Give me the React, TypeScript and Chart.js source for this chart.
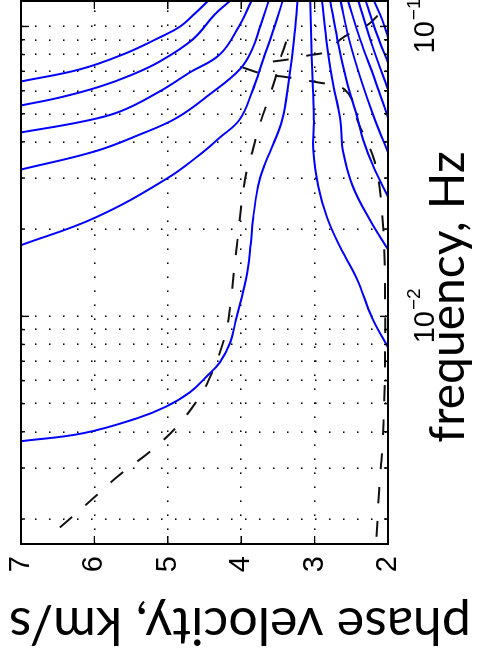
import React, { useEffect, useRef } from "react";
import { Chart, registerables } from "chart.js";

Chart.register(...registerables);

// ---------- axes ----------
const FREQ_MIN = 0.00164;
const FREQ_MAX = 0.1224;
const VEL_MIN = 2;
const VEL_MAX = 7;
const FREQ_GRID = [
  0.002, 0.003, 0.004, 0.005, 0.006, 0.007, 0.008, 0.009,
  0.01, 0.02, 0.03, 0.04, 0.05, 0.06, 0.07, 0.08, 0.09, 0.1,
];
const FREQ_MAJOR = [0.01, 0.1];
const FREQ_LABEL_VALUES = [0.01, 0.1];
const FREQ_LABEL_EXPONENTS = ["\u22122", "\u22121"];
const VEL_GRID = [3, 4, 5, 6];
const VEL_TICKS = [2, 3, 4, 5, 6, 7];
const X_TITLE = "frequency, Hz";
const Y_TITLE = "phase velocity, km/s";

// ---------- solid (blue) modes: frequency [Hz], phase velocity [km/s] ----------
const modeAFreq = [0.0646, 0.0711, 0.0801, 0.0917, 0.1, 0.1109, 0.1239];
const modeAVel = [7.0, 6.2, 5.61, 5.11, 4.83, 4.63, 4.43];
const modeBFreq = [0.0534, 0.0569, 0.0621, 0.0678, 0.0757, 0.0902, 0.11, 0.1239];
const modeBVel = [7.0, 6.47, 5.92, 5.51, 5.11, 4.66, 4.36, 4.13];
const modeCFreq = [0.0431, 0.047, 0.0509, 0.0597, 0.0694, 0.0801, 0.0992, 0.1239];
const modeCVel = [7.0, 6.16, 5.65, 5.11, 4.7, 4.29, 4.04, 3.85];
const modeDFreq = [0.0321, 0.0371, 0.0424, 0.0485, 0.0583, 0.0711, 0.0833, 0.1, 0.1239];
const modeDVel = [7.0, 5.99, 5.38, 4.87, 4.43, 4.02, 3.85, 3.74, 3.62];
const modeEFreq = [0.0176, 0.0219, 0.0299, 0.0362, 0.0414, 0.0478, 0.0597, 0.077, 0.0992, 0.1239];
const modeEVel = [7.0, 5.99, 5.01, 4.56, 4.29, 4.02, 3.85, 3.7, 3.55, 3.43];
const modeFFreq = [
  0.00371, 0.00395, 0.00445, 0.00489, 0.00547, 0.00621, 0.00694, 0.00813, 0.00976, 0.0117,
  0.01453, 0.01771, 0.0216, 0.0281, 0.0329, 0.0368, 0.0478, 0.0657, 0.0902, 0.1239,
];
const modeFVel = [
  7.0, 6.16, 5.42, 5.02, 4.7, 4.47, 4.29, 4.15, 4.07, 3.99,
  3.91, 3.87, 3.84, 3.77, 3.69, 3.61, 3.44, 3.35, 3.28, 3.23,
];
const modeGFreq = [0.1239, 0.077, 0.0478, 0.0377, 0.0281, 0.0219, 0.01729, 0.01341, 0.00992, 0.00782];
const modeGVel = [3.06, 3.04, 3.01, 3.02, 2.95, 2.83, 2.65, 2.42, 2.22, 2.0];
const modeH1Freq = [0.1239, 0.0902, 0.0657, 0.0478, 0.0368, 0.0281, 0.0216, 0.017];
const modeH1Vel = [2.9, 2.84, 2.76, 2.65, 2.61, 2.48, 2.25, 2.0];
const modeH2Freq = [0.1239, 0.0902, 0.0657, 0.0478, 0.0408, 0.0329, 0.0259];
const modeH2Vel = [2.79, 2.69, 2.57, 2.41, 2.34, 2.2, 2.0];
const modeH3Freq = [0.1239, 0.0902, 0.0657, 0.0478, 0.0368];
const modeH3Vel = [2.65, 2.53, 2.37, 2.18, 2.0];
const modeH4Freq = [0.1239, 0.0902, 0.0657, 0.0485];
const modeH4Vel = [2.55, 2.38, 2.18, 2.0];
const modeH5Freq = [0.1239, 0.0867, 0.0606];
const modeH5Vel = [2.41, 2.22, 2.0];
const modeH6Freq = [0.1239, 0.0938, 0.0751];
const modeH6Vel = [2.31, 2.15, 2.0];
const modeH7Freq = [0.1239, 0.1057, 0.0917];
const modeH7Vel = [2.2, 2.08, 2.0];

// ---------- dashed (black) modes ----------
const dashK1Freq = [
  0.00187, 0.00234, 0.00285, 0.00342, 0.00418, 0.0053, 0.00597, 0.00751, 0.00924, 0.0114,
  0.0142, 0.0174, 0.0253, 0.0321, 0.0368, 0.0441, 0.056, 0.0657, 0.077, 0.0867, 0.0992,
];
const dashK1Vel = [
  6.47, 6.03, 5.65, 5.24, 4.87, 4.56, 4.45, 4.29, 4.19, 4.14,
  4.1, 4.06, 3.99, 3.92, 3.85, 3.77, 3.63, 3.54, 3.47, 3.4, 3.34,
];
const dashK2Freq = [
  0.0722, 0.0683, 0.0672, 0.0657, 0.0641, 0.0626, 0.0606, 0.056, 0.047, 0.0408,
  0.0348, 0.0285, 0.0225, 0.017, 0.0114, 0.00769, 0.00517, 0.00348, 0.00253, 0.00165,
];
const dashK2Vel = [
  3.98, 3.68, 3.44, 3.2, 2.95, 2.72, 2.59, 2.49, 2.41, 2.3,
  2.19, 2.12, 2.08, 2.05, 2.04, 2.04, 2.05, 2.08, 2.12, 2.16,
];
const dashK3Freq = [0.0757, 0.077, 0.0794, 0.082, 0.0902, 0.0946, 0.1016, 0.1109, 0.1163];
const dashK3Vel = [3.57, 3.35, 3.09, 2.83, 2.65, 2.52, 2.27, 2.11, 2.0];

const SOLID = [
  [modeAFreq, modeAVel], [modeBFreq, modeBVel], [modeCFreq, modeCVel], [modeDFreq, modeDVel],
  [modeEFreq, modeEVel], [modeFFreq, modeFVel], [modeGFreq, modeGVel], [modeH1Freq, modeH1Vel],
  [modeH2Freq, modeH2Vel], [modeH3Freq, modeH3Vel], [modeH4Freq, modeH4Vel], [modeH5Freq, modeH5Vel],
  [modeH6Freq, modeH6Vel], [modeH7Freq, modeH7Vel],
];
const DASHED = [[dashK1Freq, dashK1Vel], [dashK2Freq, dashK2Vel], [dashK3Freq, dashK3Vel]];

const toPoints = (f: number[], v: number[]) => f.map((x, i) => ({ x, y: v[i] }));

const CW = 653;
const CH = 482;

const matlabAxes = {
  id: "matlabAxes",
  afterDraw(chart: any) {
    const { ctx, chartArea: a, scales } = chart;
    const xs = scales.x;
    const ys = scales.y;
    ctx.save();
    ctx.strokeStyle = "#000";
    ctx.lineWidth = 1.4;
    ctx.beginPath();
    FREQ_GRID.forEach((f) => {
      const px = xs.getPixelForValue(f);
      const len = FREQ_MAJOR.includes(f) ? 8 : 4;
      ctx.moveTo(px, a.bottom);
      ctx.lineTo(px, a.bottom - len);
      ctx.moveTo(px, a.top);
      ctx.lineTo(px, a.top + len);
    });
    VEL_TICKS.forEach((v) => {
      const py = ys.getPixelForValue(v);
      ctx.moveTo(a.left, py);
      ctx.lineTo(a.left + 8, py);
      ctx.moveTo(a.right, py);
      ctx.lineTo(a.right - 8, py);
    });
    ctx.stroke();
    ctx.lineWidth = 2;
    ctx.strokeRect(a.left, a.top, a.right - a.left, a.bottom - a.top);

    ctx.fillStyle = "#000";
    ctx.font = '29px "Liberation Sans", Arial, sans-serif';
    ctx.textAlign = "right";
    ctx.textBaseline = "middle";
    VEL_TICKS.forEach((v) => ctx.fillText(String(v), a.left - 12, ys.getPixelForValue(v)));

    ctx.textBaseline = "alphabetic";
    ctx.textAlign = "left";
    FREQ_LABEL_VALUES.forEach((f, i) => {
      const px = xs.getPixelForValue(f);
      ctx.font = '29px "Liberation Sans", Arial, sans-serif';
      const wBase = ctx.measureText("10").width;
      ctx.font = '19px "Liberation Sans", Arial, sans-serif';
      const wExp = ctx.measureText(FREQ_LABEL_EXPONENTS[i]).width;
      const start = px - (wBase + wExp) / 2;
      ctx.font = '29px "Liberation Sans", Arial, sans-serif';
      ctx.fillText("10", start, a.bottom + 46);
      ctx.font = '19px "Liberation Sans", Arial, sans-serif';
      ctx.fillText(FREQ_LABEL_EXPONENTS[i], start + wBase + 1, a.bottom + 32);
    });

    ctx.font = '48px Lato, "Open Sans", sans-serif';
    ctx.textAlign = "center";
    ctx.textBaseline = "alphabetic";
    ctx.fillText(X_TITLE, 356, 464);

    ctx.translate(45, 240);
    ctx.rotate(-Math.PI / 2);
    ctx.font = '52px Lato, "Open Sans", sans-serif';
    ctx.fillText(Y_TITLE, 0, 0);
    ctx.restore();
  },
};

export default function App() {
  const canvasRef = useRef<HTMLCanvasElement | null>(null);

  useEffect(() => {
    const canvas = canvasRef.current;
    if (!canvas) return;
    const datasets: any[] = [];
    SOLID.forEach(([f, v], i) =>
      datasets.push({
        label: "mode " + i,
        data: toPoints(f, v),
        showLine: true,
        borderColor: "rgb(0,0,255)",
        borderWidth: 2,
        pointRadius: 0,
        tension: 0.4,
        fill: false,
        clip: 0,
      })
    );
    DASHED.forEach(([f, v], i) =>
      datasets.push({
        label: "dashed " + i,
        data: toPoints(f, v),
        showLine: true,
        borderColor: "#111",
        borderWidth: 2,
        borderDash: [16, 18],
        pointRadius: 0,
        tension: 0.35,
        fill: false,
        clip: 0,
      })
    );

    const chart = new Chart(canvas, {
      type: "scatter",
      data: { datasets },
      options: {
        responsive: false,
        animation: false,
        devicePixelRatio: 1,
        layout: { padding: { left: 109, right: 1, top: 21, bottom: CH - 388 } },
        plugins: { legend: { display: false }, tooltip: { enabled: false } },
        scales: {
          x: {
            type: "logarithmic",
            min: FREQ_MIN,
            max: FREQ_MAX,
            afterBuildTicks: (scale: any) => {
              scale.ticks = FREQ_GRID.map((value) => ({ value }));
            },
            ticks: { display: false },
            grid: { color: "#000", lineWidth: 1.6, drawTicks: false },
            border: { display: false, dash: [1.6, 12.4] },
          },
          y: {
            type: "linear",
            min: VEL_MIN,
            max: VEL_MAX,
            afterBuildTicks: (scale: any) => {
              scale.ticks = VEL_GRID.map((value) => ({ value }));
            },
            ticks: { display: false },
            grid: { color: "#000", lineWidth: 1.6, drawTicks: false },
            border: { display: false, dash: [1.6, 12.4] },
          },
        },
      },
      plugins: [matlabAxes],
    } as any);
    return () => chart.destroy();
  }, []);

  return (
    <div
      style={{
        position: "fixed",
        left: 0,
        top: 0,
        width: CW,
        height: CH,
        transformOrigin: "0 0",
        transform: `translate(0px, ${CW}px) rotate(-90deg)`,
        background: "#fff",
      }}
    >
      <canvas ref={canvasRef} width={CW} height={CH} style={{ width: CW, height: CH, display: "block" }} />
    </div>
  );
}
